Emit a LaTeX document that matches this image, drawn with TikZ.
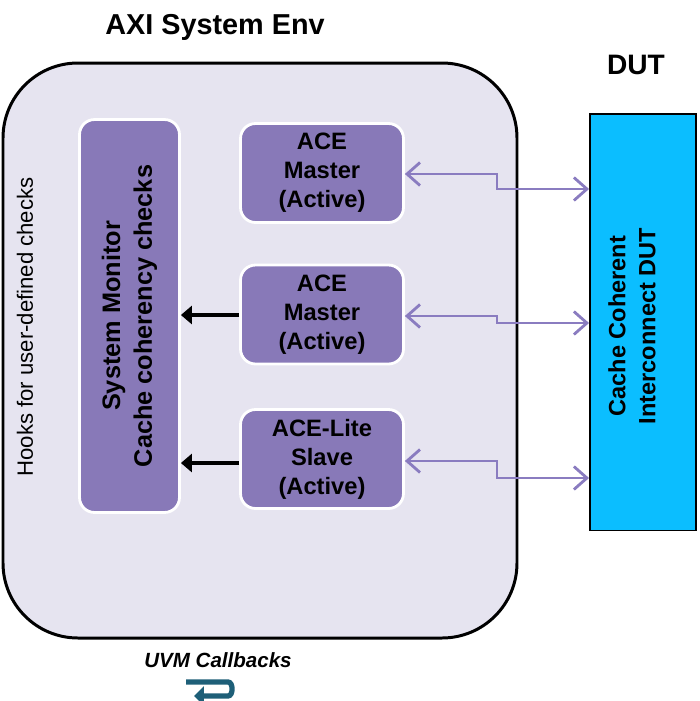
\documentclass[tikz,border=0pt]{standalone}
\usepackage{fontspec}
\setmainfont{Liberation Sans}
\definecolor{axEnv}{HTML}{E6E4F0}
\definecolor{axBox}{HTML}{8879B8}
\definecolor{axLink}{HTML}{8A7CC0}
\definecolor{axDut}{HTML}{0BBEFF}
\definecolor{axTeal}{HTML}{1E5F78}
\usetikzlibrary{arrows.meta}

\tikzset{
  agentbox/.style={draw=white, line width=1.6pt, fill=axBox, rounded corners=0.3cm,
    minimum width=3.26cm, minimum height=1.98cm, align=center,
    font=\fontsize{13.5}{16.5}\selectfont\bfseries},
  duplex/.style={axLink, line width=1.6pt, {Straight Barb[length=2.6mm,width=4.6mm]}-{Straight Barb[length=2.6mm,width=4.6mm]}},
  feed/.style={line width=2.6pt, -{Triangle[length=2.2mm,width=3.6mm]}}
}

\begin{document}
\begin{tikzpicture}[x=0.02cm,y=-0.02cm]
  \useasboundingbox (0,0) rectangle (700,701);

  % Env
  \draw[line width=1.7pt, fill=axEnv, rounded corners=1.5cm] (3,63) rectangle (517,638);
  \node[font=\fontsize{16.4}{18}\selectfont\bfseries] (envtitle) at (215,27) {AXI System Env};
  \node[rotate=90, font=\fontsize{12.6}{14}\selectfont] (hooks) at (25,327) {Hooks for user-defined checks};

  % Monitor
  \node[agentbox, minimum width=7.86cm, minimum height=2.0cm, rotate=90,
    font=\fontsize{14.4}{18}\selectfont\bfseries] (monitor) at (129.5,316)
    {System Monitor\\Cache coherency checks};

  % Agents
  \node[agentbox] (master1) at (322,173) {ACE\\Master\\(Active)};
  \node[agentbox] (master2) at (322,314.5) {ACE\\Master\\(Active)};
  \node[agentbox] (slave) at (322,459) {ACE-Lite\\Slave\\(Active)};

  % DUT
  \node[font=\fontsize{16}{18}\selectfont\bfseries] (dutlabel) at (636,65) {DUT};
  \node[draw, line width=1.1pt, fill=axDut, minimum width=8.34cm, minimum height=2.12cm,
    rotate=90] (dut) at (643,322) {};
  \node[rotate=90, align=center, font=\fontsize{13.4}{17}\selectfont\bfseries] (duttext)
    at (632,326) {Cache Coherent\\Interconnect DUT};

  % Links
  \draw[duplex] (master1.east |- 0,174) -- (497,174) -- (497,189) -- (dut.north |- 0,189);
  \draw[duplex] (master2.east |- 0,316) -- (497,316) -- (497,323) -- (dut.north |- 0,323);
  \draw[duplex] (slave.east |- 0,461) -- (497,461) -- (497,478) -- (dut.north |- 0,478);

  \draw[feed] (master2.west |- 0,315) -- (monitor.south |- 0,315);
  \draw[feed] (slave.west |- 0,463) -- (monitor.south |- 0,463);

  % Callbacks
  \node[font=\fontsize{11.7}{13}\selectfont\bfseries\itshape] (uvmcb) at (218,660) {UVM Callbacks};
  \draw[axTeal, line width=3pt, -{Triangle[length=2mm,width=3.8mm]}]
    (186,682) -- (228,682) to[out=0,in=0] (228,696) -- (194,696);
\end{tikzpicture}
\end{document}
